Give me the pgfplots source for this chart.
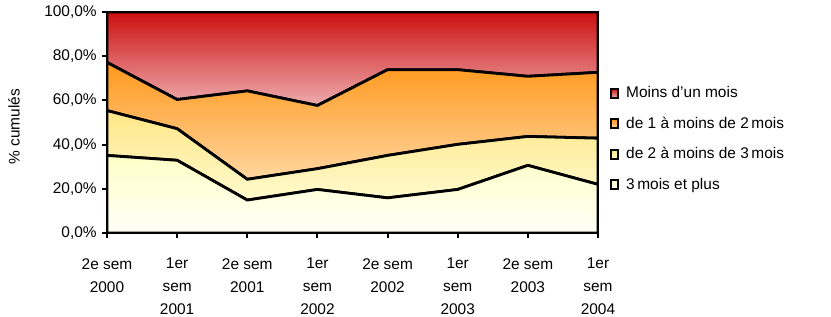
\documentclass[border=0pt]{standalone}
\usepackage{pgfplots}
\pgfplotsset{compat=1.18}
\usepackage{fontspec}
\setmainfont{Liberation Sans}
\definecolor{redT}{RGB}{204,16,16}
\definecolor{redB}{RGB}{238,172,175}
\definecolor{orT}{RGB}{255,152,28}
\definecolor{orB}{RGB}{255,214,160}
\definecolor{yeT}{RGB}{255,230,135}
\definecolor{yeB}{RGB}{255,250,205}
\definecolor{lyT}{RGB}{255,255,200}
\definecolor{lyB}{RGB}{255,255,248}
\begin{document}
\fontsize{15.5}{18}\selectfont
\begin{tikzpicture}
\useasboundingbox (-107bp,-84bp) rectangle (724bp,233bp);
\begin{axis}[
  scale only axis, width=491bp, height=221bp,
  xmin=0, xmax=7, ymin=0, ymax=100,
  stack plots=y,
  axis on top,
  xtick pos=left, ytick pos=left,
  xtick={0,...,7},
  xticklabels={{2e sem\\2000},{1er\\sem\\2001},{2e sem\\2001},{1er\\sem\\2002},{2e sem\\2002},{1er\\sem\\2003},{2e sem\\2003},{1er\\sem\\2004}},
  xticklabel style={align=center, font=\fontsize{15.5}{23}\selectfont, yshift=-15bp},
  ytick={0,20,...,100},
  yticklabel={\pgfmathprintnumber[fixed,fixed zerofill,precision=1,use comma]{\tick}\%},
  /pgf/number format/assume math mode=true,
  yticklabel style={font=\fontsize{15.5}{18}\selectfont},
  tick align=outside, major tick length=5bp,
  tick style={black, line width=2bp},
  axis line style={line width=2.5bp},
  ylabel={\% cumulés},
  every axis y label/.style={at={(axis description cs:0,0.48)}, xshift=-93bp, rotate=90, anchor=center, font=\fontsize{15.5}{18}\selectfont},
  legend style={draw=none, fill=none, at={(1.0,0.425)}, anchor=west, xshift=10bp, row sep=13bp, font=\fontsize{15.5}{18}\selectfont, inner xsep=2bp},
  legend cell align=left,
  reverse legend,
  legend image code/.code={\path[draw=none,fill=none,shading=none] (0bp,0bp) (13bp,0bp); \draw[line width=2bp, draw=black, #1] (0bp,-4.5bp) rectangle (7bp,4.5bp);},
]
\addplot[draw=black, line width=2.8bp, top color=lyT, bottom color=lyB] coordinates {(0,35.1) (1,32.9) (2,14.9) (3,19.7) (4,15.9) (5,19.7) (6,30.6) (7,22.0)} \closedcycle;
\addlegendentry{3\,mois et plus}
\addplot[draw=black, line width=2.8bp, top color=yeT, bottom color=yeB] coordinates {(0,20.3) (1,14.3) (2,9.4) (3,9.4) (4,19.2) (5,20.4) (6,13.1) (7,20.9)} \closedcycle;
\addlegendentry{de 2 à moins de 3\,mois}
\addplot[draw=black, line width=2.8bp, top color=orT, bottom color=orB] coordinates {(0,21.8) (1,13.2) (2,40.0) (3,28.6) (4,38.8) (5,33.8) (6,27.2) (7,29.8)} \closedcycle;
\addlegendentry{de 1 à moins de 2\,mois}
\addplot[draw=black, line width=2.8bp, top color=redT, bottom color=redB] coordinates {(0,22.8) (1,39.6) (2,35.7) (3,42.3) (4,26.1) (5,26.1) (6,29.1) (7,27.3)} \closedcycle;
\addlegendentry{Moins d'un mois}
\end{axis}
\end{tikzpicture}
\end{document}
